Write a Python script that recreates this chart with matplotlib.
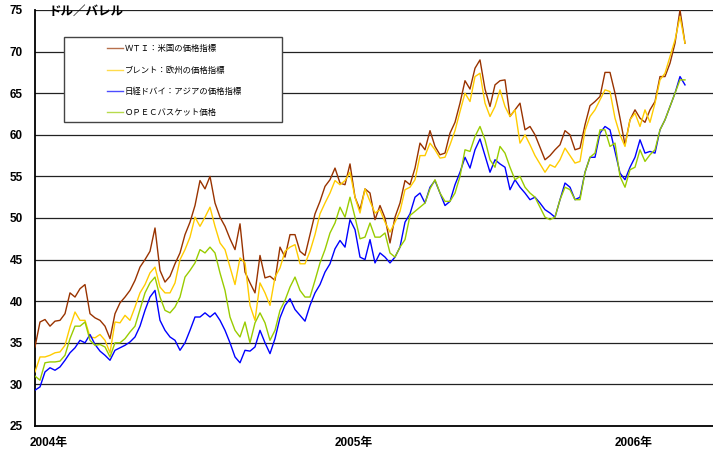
"""
Crude oil benchmark prices, 2004 - April 2006 (weekly readings).
"""

import matplotlib
matplotlib.use('Agg')
import matplotlib.pyplot as plt
from matplotlib.lines import Line2D
from matplotlib.patches import Rectangle
import numpy as np

plt.rcParams['font.family'] = ['Liberation Sans', 'Noto Sans CJK JP', 'DejaVu Sans']

# Prices in dollars per barrel, one reading roughly every week
wti = [34.5, 37.5, 37.8, 37.0, 37.6, 37.7, 38.5, 41.0, 40.5, 41.5,
       42.0, 38.5, 38.0, 37.7, 37.0, 35.5, 38.5, 39.8, 40.5, 41.3,
       42.5, 44.1, 45.0, 46.0, 48.8, 43.7, 42.3, 43.0, 44.5, 45.8,
       48.0, 49.5, 51.5, 54.5, 53.5, 55.0, 51.8, 50.1, 49.0, 47.5,
       46.2, 49.3, 43.5, 42.2, 41.0, 45.5, 42.8, 43.0, 42.5, 46.5,
       45.3, 48.0, 48.0, 46.0, 45.5, 48.0, 50.5, 52.0, 53.8, 54.6,
       56.0, 54.2, 54.0, 56.5, 52.5, 51.0, 53.5, 53.0, 49.8, 51.5,
       50.0, 47.0, 50.1, 51.8, 54.5, 54.0, 56.0, 59.0, 58.2, 60.5,
       58.6, 57.6, 57.8, 60.2, 61.5, 63.8, 66.5, 65.5, 68.0, 69.0,
       65.5, 63.4, 66.0, 66.5, 66.6, 62.2, 63.0, 63.8, 60.6, 61.0,
       60.0, 58.5, 57.0, 57.5, 58.2, 58.8, 60.5, 60.0, 58.2, 58.4,
       61.2, 63.5, 64.0, 64.6, 67.5, 67.5, 65.0, 62.0, 58.8, 61.8,
       63.0, 62.0, 61.5, 63.0, 64.0, 67.0, 67.0, 68.6, 71.0, 75.0,
       71.0]

brent = [31.5, 33.3, 33.3, 33.5, 33.8, 33.9, 34.7, 36.9, 38.7, 37.7,
         37.7, 35.7, 35.6, 36.0, 35.3, 33.8, 37.5, 37.4, 38.3, 37.7,
         39.3, 41.0, 42.0, 43.4, 44.1, 41.7, 41.0, 41.0, 42.2, 45.0,
         46.2, 47.7, 50.1, 49.0, 50.1, 51.3, 49.0, 47.0, 46.2, 44.1,
         42.0, 45.2, 44.6, 39.5, 37.7, 42.2, 41.0, 39.5, 42.9, 44.0,
         46.0, 46.5, 46.8, 44.5, 44.5, 46.0, 48.0, 50.5, 51.8, 53.0,
         54.5, 54.0, 54.5, 55.5, 52.5, 50.6, 53.5, 52.0, 50.6, 51.0,
         49.5, 48.3, 49.5, 50.8, 53.4, 53.7, 54.6, 57.5, 57.5, 59.0,
         58.2, 57.2, 57.3, 58.8, 60.5, 62.8, 65.0, 64.0, 67.0, 67.4,
         63.8, 62.2, 63.4, 65.4, 63.4, 62.2, 63.0, 59.0, 60.0, 58.8,
         57.5, 56.5, 55.5, 56.4, 56.1, 57.0, 58.4, 57.5, 56.6, 56.8,
         60.5, 62.2, 63.0, 64.2, 65.4, 65.2, 62.0, 60.0, 58.6, 61.8,
         62.6, 61.0, 63.0, 61.5, 63.8, 66.6, 67.4, 69.4, 71.4, 74.2,
         71.0]

dubai = [29.3, 29.7, 31.5, 32.0, 31.7, 32.1, 32.9, 33.8, 34.4, 35.3,
         35.0, 36.0, 34.8, 34.0, 33.5, 32.9, 34.1, 34.4, 34.7, 35.1,
         35.7, 37.0, 38.9, 40.5, 41.3, 37.7, 36.5, 35.7, 35.3, 34.1,
         35.0, 36.5, 38.1, 38.1, 38.6, 38.1, 38.6, 37.7, 36.5, 35.0,
         33.3, 32.6, 34.1, 34.0, 34.5, 36.5, 35.0, 33.7, 35.5, 38.0,
         39.5, 40.3, 39.0, 38.3, 37.6, 39.5, 41.0, 42.0, 43.5, 44.5,
         46.3, 47.3, 46.5, 49.8, 48.6, 45.3, 45.0, 47.4, 44.6, 45.8,
         45.3, 44.6, 45.3, 46.5, 49.5, 50.5, 52.5, 53.0, 51.8, 53.7,
         54.5, 53.0, 51.5, 52.0, 54.0, 55.5, 57.3, 56.0, 58.2, 59.5,
         57.5, 55.5, 57.0, 56.5, 56.1, 53.4, 54.6, 53.7, 53.0, 52.2,
         52.5, 51.8, 51.0, 50.6, 50.1, 52.2, 54.2, 53.7, 52.2, 52.5,
         55.5, 57.3, 57.3, 60.2, 61.0, 60.6, 58.0, 55.4, 54.6, 56.1,
         57.3, 59.4, 57.8, 58.0, 57.8, 60.6, 61.8, 63.4, 65.0, 67.0,
         66.0]

opec = [31.0, 30.5, 32.6, 32.7, 32.7, 32.8, 33.5, 35.5, 37.0, 37.0,
        37.5, 35.3, 34.7, 34.8, 34.5, 33.3, 35.0, 35.0, 35.5, 36.3,
        37.0, 39.0, 41.0, 42.2, 42.9, 40.5, 38.9, 38.6, 39.3, 40.5,
        42.9, 43.7, 44.6, 46.2, 45.8, 46.5, 45.8, 43.4, 41.3, 38.1,
        36.5, 35.7, 37.5, 35.0, 37.4, 38.6, 37.4, 35.3, 36.5, 38.9,
        40.1, 41.7, 42.9, 41.3, 40.5, 40.5, 42.5, 44.6, 46.2, 48.2,
        49.4, 51.3, 50.1, 52.5, 50.1, 47.5, 47.7, 49.4, 47.7, 47.7,
        48.2, 45.8, 45.3, 46.5, 47.4, 50.3, 50.8, 51.3, 51.8, 53.5,
        54.6, 53.0, 52.0, 52.0, 53.0, 55.0, 58.2, 58.0, 59.8, 61.0,
        59.4, 57.0, 56.1, 58.6, 57.8, 56.1, 54.6, 55.0, 53.7, 53.0,
        52.5, 51.3, 50.1, 49.8, 50.1, 52.2, 53.7, 53.4, 52.2, 52.2,
        55.5, 57.3, 57.8, 60.6, 60.6, 58.6, 59.0, 55.0, 53.7, 55.8,
        56.1, 58.2, 56.8, 57.6, 58.2, 60.6, 61.8, 63.4, 65.0, 66.6,
        66.6]

series_names = ['ＷＴＩ：米国の価格指標', 'ブレント：欧州の価格指標',
                '日経ドバイ：アジアの価格指標', 'ＯＰＥＣバスケット価格']
series_colors = ['#993300', '#FFCC00', '#0000FF', '#99CC00']

year_labels = ['2004年', '2005年', '2006年']
year_pos = [2.8, 63.8, 119.8]   # week index under each label

W, H = 713, 451
fig = plt.figure(figsize=(W / 100, H / 100), dpi=100)
ax = fig.add_axes([35 / W, 1 - 426 / H, 1 - 35 / W, (426 - 10) / H])

week = np.arange(len(wti))
for vals, col in zip([wti, brent, dubai, opec], series_colors):
    ax.plot(week, vals, color=col, linewidth=1.0, zorder=3)

ax.set_xlim(0, (W - 35) / 5)
ax.set_ylim(25, 75)
ax.set_yticks(np.arange(25, 76, 5))
ax.set_xticks(year_pos)
ax.set_xticklabels(year_labels)
ax.tick_params(axis='both', length=0, labelsize=8.5)
ax.tick_params(axis='y', pad=9)
ax.tick_params(axis='x', pad=8)
for lab in ax.get_yticklabels() + ax.get_xticklabels():
    lab.set_fontweight('bold')

for v in range(30, 76, 5):
    ax.axhline(v, color='#222222', linewidth=0.9, zorder=1)

ax.spines['top'].set_visible(False)
ax.spines['right'].set_visible(False)
ax.spines['left'].set_linewidth(1.3)
ax.spines['bottom'].set_linewidth(1.3)

# unit label at the top left, sitting on the top gridline as in the source
fig.text(49 / W, 1 - 11 / H, 'ドル／バレル', fontsize=9, fontweight='bold',
         family=['Noto Sans CJK JP', 'DejaVu Sans'], va='center', ha='left', zorder=4)

# legend box drawn by hand so it matches the reference layout
def fx(x):
    return x / W

def fy(y):
    return 1 - y / H

fig.patches.append(Rectangle((fx(64), fy(122)), fx(282) - fx(64), fy(37) - fy(122),
                             transform=fig.transFigure, facecolor='white',
                             edgecolor='#444444', linewidth=1.0, zorder=5))
row_y = [48, 70, 91, 112]
for name, col, ry in zip(series_names, series_colors, row_y):
    fig.lines.append(Line2D([fx(107), fx(123)], [fy(ry), fy(ry)], color=col,
                            linewidth=1.0, alpha=0.7, transform=fig.transFigure, zorder=6))
    fig.text(fx(125), fy(ry), name, fontsize=6, va='center', ha='left', zorder=6,
             family=['Noto Sans CJK JP', 'DejaVu Sans'])

plt.savefig('out.png', dpi=100)
